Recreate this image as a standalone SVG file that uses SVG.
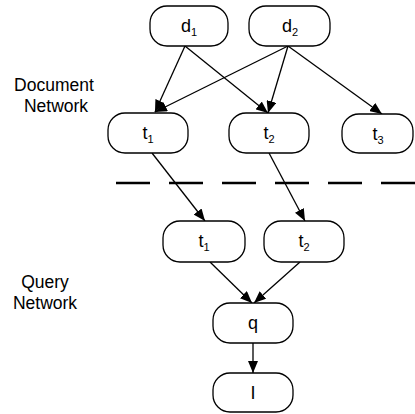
<svg xmlns="http://www.w3.org/2000/svg" width="415" height="414" viewBox="0 0 415 414">
  <style>
    .node rect { fill: #fff; stroke: #000; stroke-width: 1.3; }
    .node text { font-family: "Liberation Sans", Arial, sans-serif; font-size: 18px; fill: #000; text-anchor: middle; }
    .node .sub { font-size: 11px; }
    .label { font-family: "Liberation Sans", Arial, sans-serif; font-size: 17.5px; fill: #000; text-anchor: middle; }
    .edge { stroke: #000; stroke-width: 1.3; fill: none; marker-end: url(#arrow); }
    .divider { stroke: #000; stroke-width: 2.5; stroke-dasharray: 34 19; }
  </style>
  <defs>
    <marker id="arrow" markerUnits="userSpaceOnUse" markerWidth="13" markerHeight="10" refX="12" refY="5" orient="auto">
      <path d="M0,0 L12,5 L0,10 z" fill="#000"/>
    </marker>
  </defs>

  <rect width="415" height="414" fill="#fff"/>

  <!-- side labels -->
  <text class="label" x="54" y="91">Document</text>
  <text class="label" x="56" y="112">Network</text>
  <text class="label" x="45" y="288">Query</text>
  <text class="label" x="45" y="309">Network</text>

  <!-- boundary between the two networks -->
  <line class="divider" x1="116" y1="183" x2="415" y2="183"/>

  <g id="connectors">
    <line class="edge" x1="185" y1="46" x2="155" y2="112"/>
    <line class="edge" x1="185" y1="46" x2="268" y2="113"/>
    <line class="edge" x1="288" y1="46" x2="155" y2="112"/>
    <line class="edge" x1="288" y1="46" x2="268" y2="113"/>
    <line class="edge" x1="288" y1="46" x2="382" y2="114"/>
    <line class="edge" x1="152" y1="153" x2="205" y2="221"/>
    <line class="edge" x1="269" y1="153" x2="305" y2="221"/>
    <line class="edge" x1="210" y1="262" x2="252" y2="303"/>
    <line class="edge" x1="300" y1="262" x2="254" y2="303"/>
    <line class="edge" x1="253" y1="343" x2="253" y2="373"/>
  </g>

  <g id="d1" class="node">
    <rect x="150" y="6" width="78" height="40" rx="17"/>
    <text x="189" y="32">d<tspan class="sub" dy="4">1</tspan></text>
  </g>
  <g id="d2" class="node">
    <rect x="249" y="6" width="81" height="40" rx="17"/>
    <text x="290" y="32">d<tspan class="sub" dy="4">2</tspan></text>
  </g>

  <g id="doc-t1" class="node">
    <rect x="108" y="113" width="80" height="40" rx="17"/>
    <text x="148" y="139">t<tspan class="sub" dy="4">1</tspan></text>
  </g>
  <g id="doc-t2" class="node">
    <rect x="229" y="113" width="80" height="40" rx="17"/>
    <text x="269" y="139">t<tspan class="sub" dy="4">2</tspan></text>
  </g>
  <g id="doc-t3" class="node">
    <rect x="342" y="114" width="71" height="39" rx="17"/>
    <text x="378" y="140">t<tspan class="sub" dy="4">3</tspan></text>
  </g>

  <g id="query-t1" class="node">
    <rect x="163" y="221" width="82" height="41" rx="17"/>
    <text x="204" y="247">t<tspan class="sub" dy="4">1</tspan></text>
  </g>
  <g id="query-t2" class="node">
    <rect x="264" y="221" width="80" height="41" rx="17"/>
    <text x="304" y="247">t<tspan class="sub" dy="4">2</tspan></text>
  </g>

  <g id="q" class="node">
    <rect x="213" y="303" width="80" height="40" rx="17"/>
    <text x="253" y="329">q</text>
  </g>
  <g id="I" class="node">
    <rect x="213" y="373" width="80" height="39" rx="17"/>
    <text x="253" y="399">I</text>
  </g>
</svg>
